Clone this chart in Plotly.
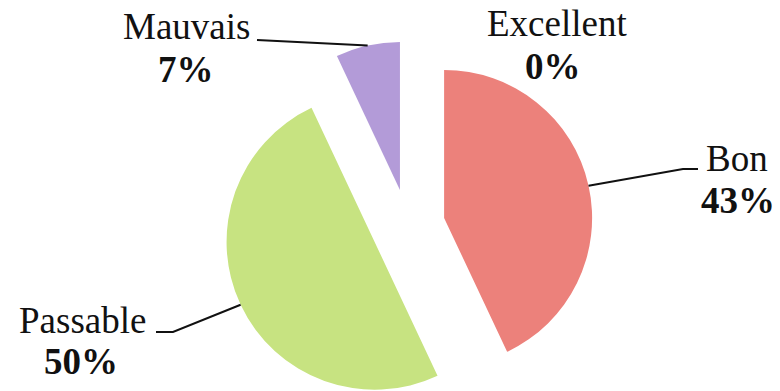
import math
import plotly.graph_objects as go

# ---- data ----
categories = ["Excellent", "Bon", "Passable", "Mauvais"]
values = [0, 43, 50, 7]
colors = ["#7FB2E5", "#EC817B", "#C7E381", "#B39BD8"]
pull = [0.25, 0.25, 0.25, 0.25]

W, H = 780, 391              # page / figure size
R = 148                      # pie radius in px
CX, CY = 408, 226            # pie centre in px

def px(x):
    return x / W

def py(y):
    return 1 - y / H

total = sum(values)
fig = go.Figure()

# slice geometry (clockwise from 12 o'clock)
mids = []
acc = 0
for v in values:
    start = acc / total * 360
    acc += v
    end = acc / total * 360
    mids.append(math.radians((start + end) / 2))

centres = []
for i, v in enumerate(values):
    d = pull[i] * R
    cx = CX + d * math.sin(mids[i])
    cy = CY - d * math.cos(mids[i])
    centres.append((cx, cy))
    if v <= 0:
        continue
    cols = [colors[j] if j == i else "rgba(0,0,0,0)" for j in range(len(values))]
    fig.add_trace(go.Pie(
        labels=categories, values=values, sort=False, direction="clockwise",
        rotation=0, marker=dict(colors=cols, line=dict(width=0)),
        textinfo="none", hoverinfo="skip", showlegend=False,
        domain=dict(x=[px(cx - R), px(cx + R)], y=[py(cy + R), py(cy - R)]),
    ))

# labels (name line, percent line), centres in px
label_pos = {
    "Excellent": ((557, 24), (553, 66)),
    "Bon": ((737, 158), (738, 200)),
    "Passable": ((82, 320), (81, 361)),
    "Mauvais": ((186, 26), (186, 70)),
}
font_family = "Liberation Serif, Times New Roman, serif"
for i, c in enumerate(categories):
    (nx, ny), (qx, qy) = label_pos[c]
    pct = round(100 * values[i] / total)
    fig.add_annotation(x=px(nx), y=py(ny), xref="paper", yref="paper",
                       text=c, showarrow=False, xanchor="center", yanchor="middle",
                       font=dict(family=font_family, size=37, color="#111"))
    fig.add_annotation(x=px(qx), y=py(qy), xref="paper", yref="paper",
                       text=f"<b>{pct}%</b>", showarrow=False, xanchor="center",
                       yanchor="middle",
                       font=dict(family=font_family, size=37, color="#111"))

# leader lines: from slice arc at mid-angle to label elbow
elbows = {
    "Bon": [(683, 169), (698, 169)],
    "Passable": [(173, 332), (156, 332)],
    "Mauvais": [(257, 40)],
}
for i, c in enumerate(categories):
    if c not in elbows:
        continue
    cx, cy = centres[i]
    sx = cx + R * math.sin(mids[i])
    sy = cy - R * math.cos(mids[i])
    pts = [(sx, sy)] + elbows[c]
    path = "M " + " L ".join(f"{px(x):.5f},{py(y):.5f}" for x, y in pts)
    fig.add_shape(type="path", path=path, xref="paper", yref="paper",
                  line=dict(color="#111", width=2))

fig.update_layout(width=W, height=H, autosize=False,
                  margin=dict(l=0, r=0, t=0, b=0),
                  paper_bgcolor="white", plot_bgcolor="white")
fig.write_html("out.html",
               config={"displayModeBar": False, "staticPlot": True},
               post_script="document.body.style.margin='0px';"
                           "document.body.style.overflow='hidden';")
